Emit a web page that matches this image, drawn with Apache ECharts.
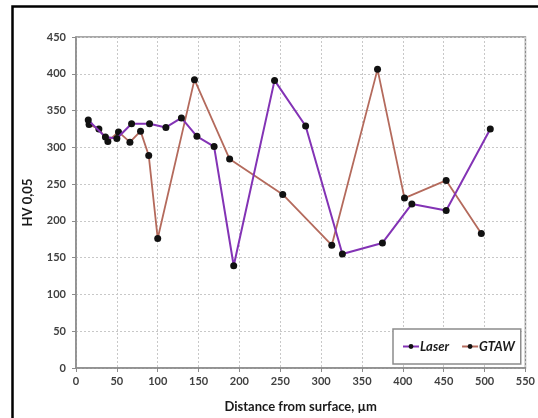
<!DOCTYPE html>
<html>
<head>
<meta charset="utf-8">
<script src="https://cdn.jsdelivr.net/npm/echarts@6/dist/echarts.min.js"></script>
<style>
  html, body { margin: 0; padding: 0; background: #fff; }
  #chart { width: 538px; height: 418px; }
</style>
</head>
<body>
<div id="chart"></div>
<script>
// hardness profiles
var laserX = [15, 36, 50, 68, 90, 110, 129, 148, 169, 193, 243, 281, 326, 375, 411, 453, 507];
var laserY = [337, 314, 312, 332, 332, 327, 340, 315, 301, 139, 391, 329, 155, 170, 223, 214, 325];
var gtawX = [16, 28, 39, 52, 66, 79, 89, 100, 145, 188, 253, 313, 369, 402, 453, 496];
var gtawY = [331, 325, 308, 321, 307, 322, 289, 176, 392, 284, 236, 167, 406, 231, 255, 183];

function pairs(xs, ys) {
  var out = [];
  for (var i = 0; i < xs.length; i++) {
    out.push([xs[i], ys[i]]);
  }
  return out;
}

var font = 'Lato, "Open Sans", sans-serif';
var chart = echarts.init(document.getElementById('chart'), null, { renderer: 'canvas' });

var axisCommon = {
  axisLine: { lineStyle: { color: '#8c8c8c', width: 1.5 } },
  axisTick: { show: true, inside: false, length: 4, lineStyle: { color: '#8c8c8c' } },
  splitLine: { show: true, lineStyle: { color: '#c8c8c8', type: [2, 2], width: 1 } },
  axisLabel: { color: '#404040', fontSize: 11, fontWeight: 'bold', fontFamily: font },
  nameTextStyle: { color: '#1a1a1a', fontSize: 13, fontWeight: 'bold', fontFamily: font }
};

var option = {
  animation: false,
  backgroundColor: '#fff',
  graphic: [{
    type: 'rect',
    shape: { x: 12.5, y: 6.5, width: 560, height: 450 },
    style: { fill: 'none', stroke: '#000', lineWidth: 2.5 },
    silent: true
  }],
  grid: {
    left: 76, top: 37, right: 10, bottom: 50,
    show: true, borderColor: '#8c8c8c', borderWidth: 1.5
  },
  legend: {
    left: 393, top: 329, width: 129, height: 37,
    padding: [11, 6, 11, 9],
    borderColor: '#8c8c8c', borderWidth: 1.5,
    backgroundColor: '#fff',
    itemWidth: 16, itemHeight: 6, itemGap: 12,
    textStyle: { fontSize: 13, fontWeight: 'bold', fontStyle: 'italic', color: '#1a1a1a', fontFamily: font, padding: [0, 0, 0, -4] },
    data: ['Laser', 'GTAW']
  },
  xAxis: Object.assign({}, axisCommon, {
    type: 'value', min: 0, max: 550, interval: 50,
    name: 'Distance from surface, µm', nameLocation: 'middle', nameGap: 32,
    axisLabel: Object.assign({}, axisCommon.axisLabel, { margin: 8 })
  }),
  yAxis: Object.assign({}, axisCommon, {
    type: 'value', min: 0, max: 450, interval: 50,
    name: 'HV 0,05', nameLocation: 'middle', nameGap: 42,
    axisLabel: Object.assign({}, axisCommon.axisLabel, { margin: 10 })
  }),
  series: [{
    name: 'Laser',
    type: 'line',
    data: pairs(laserX, laserY),
    symbol: 'circle', symbolSize: 7,
    itemStyle: { color: '#111' },
    lineStyle: { color: '#8333b5', width: 2 },
    z: 3
  }, {
    name: 'GTAW',
    type: 'line',
    data: pairs(gtawX, gtawY),
    symbol: 'circle', symbolSize: 7,
    itemStyle: { color: '#111' },
    lineStyle: { color: '#b46a5c', width: 1.8 },
    z: 2
  }]
};
chart.setOption(option);
</script>
</body>
</html>
